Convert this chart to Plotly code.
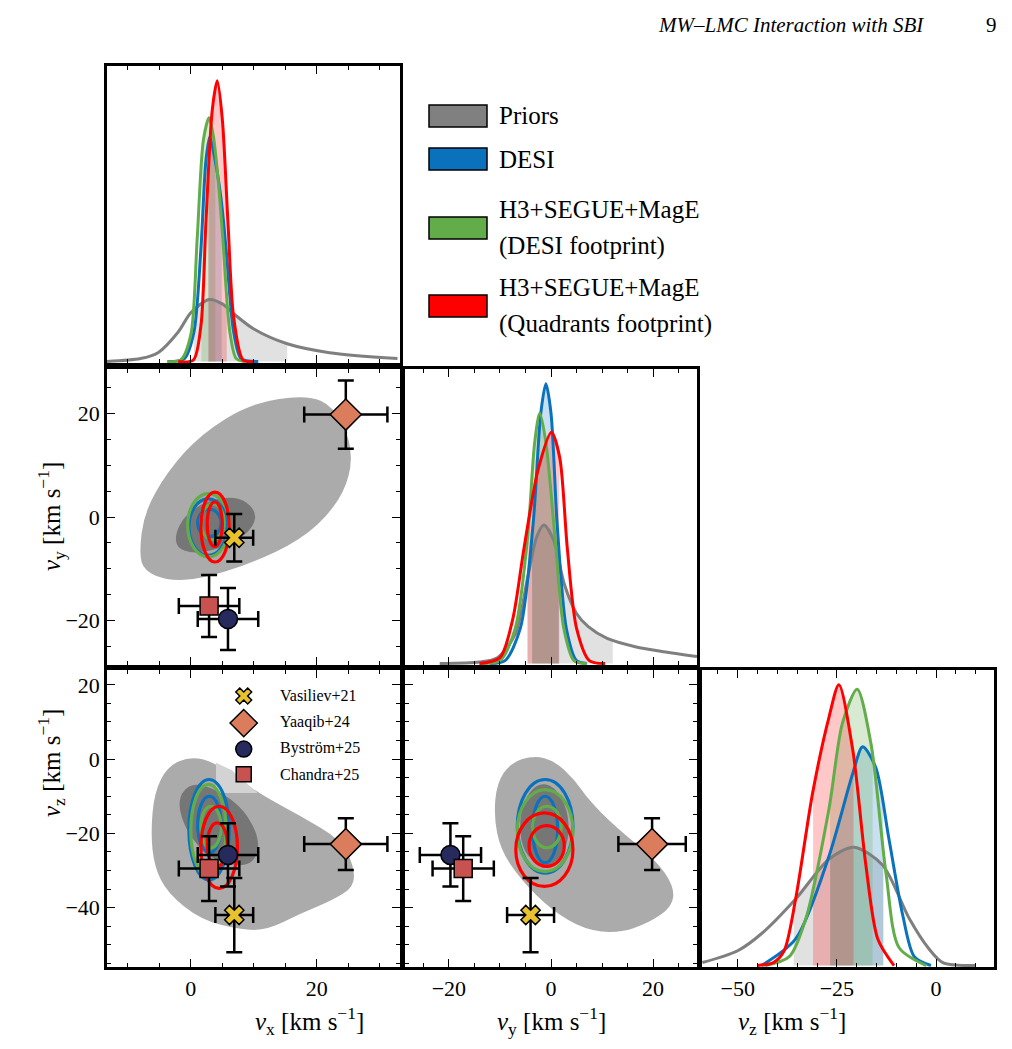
import numpy as np
import plotly.graph_objects as go

# ---- 1D marginals (value, relative height) ----
vx_prior_x = [-13.3, -8, -5.2, -2, 0, 2.9, 5, 6.9, 10, 15.3, 22, 32.8]
vx_prior_h = [0.0, 0.01, 0.03, 0.1, 0.165, 0.21, 0.195, 0.16, 0.11, 0.06, 0.03, 0.01]
vx_desi_x = [-3.7, -1, 0.5, 1.6, 2.4, 3.0, 3.7, 4.8, 5.6, 6.8, 8, 10.7]
vx_desi_h = [0, 0.01, 0.1, 0.38, 0.68, 0.76, 0.7, 0.55, 0.38, 0.1, 0.01, 0]
vx_h3d_x = [-3.7, -1.6, 0, 1.0, 2.0, 2.9, 3.6, 4.4, 5.1, 6.2, 7.2, 8.5]
vx_h3d_h = [0, 0.005, 0.09, 0.41, 0.75, 0.825, 0.76, 0.6, 0.41, 0.1, 0.01, 0]
vx_h3q_x = [-2, 0.4, 1.6, 2.4, 3.4, 4.2, 5.0, 5.9, 6.8, 8.3, 10]
vx_h3q_h = [0, 0.005, 0.12, 0.47, 0.85, 0.95, 0.82, 0.47, 0.15, 0.005, 0]

vy_prior_x = [-21.8, -14, -10.5, -7, -4.6, -2.8, -1.4, 0.5, 2.6, 5, 7.3, 11, 16.5, 22, 28.6]
vy_prior_h = [0, 0.005, 0.02, 0.1, 0.29, 0.43, 0.47, 0.42, 0.27, 0.17, 0.125, 0.085, 0.057, 0.04, 0.024]
vy_desi_x = [-12, -9, -6, -3.5, -2, -1, 0, 1.2, 3, 5, 7]
vy_desi_h = [0, 0.01, 0.12, 0.475, 0.85, 0.95, 0.85, 0.475, 0.12, 0.01, 0]
vy_h3d_x = [-14, -10, -7, -4.6, -3.2, -2.2, -1, 0.8, 2.5, 4.5, 7]
vy_h3d_h = [0, 0.01, 0.12, 0.425, 0.75, 0.85, 0.75, 0.425, 0.12, 0.01, 0]
vy_h3q_x = [-14, -10, -7.5, -5.3, -2.5, 0.1, 1.7, 3.2, 5, 7.5, 10.6]
vy_h3q_h = [0, 0.02, 0.15, 0.39, 0.66, 0.785, 0.7, 0.39, 0.12, 0.01, 0]

vz_prior_x = [-58.9, -50, -43.8, -35.4, -27, -20.7, -13.5, -6.8, -2, 1.7, 10]
vz_prior_h = [0.01, 0.05, 0.11, 0.225, 0.36, 0.40, 0.34, 0.16, 0.06, 0.01, 0]
vz_desi_x = [-44, -35.4, -27, -21, -18.5, -15.2, -11.9, -8.4, -5.5, -1.3]
vz_desi_h = [0, 0.09, 0.37, 0.65, 0.74, 0.67, 0.43, 0.17, 0.03, 0]
vz_h3d_x = [-43, -37, -32.8, -27, -23.6, -19.9, -16.4, -12.6, -9.3, -2.5]
vz_h3d_h = [0, 0.03, 0.16, 0.53, 0.82, 0.935, 0.75, 0.31, 0.06, 0]
vz_h3q_x = [-45, -41, -38.3, -35.4, -31.1, -27, -24.5, -21, -17.7, -14.7, -10.6]
vz_h3q_h = [0, 0.01, 0.05, 0.225, 0.585, 0.84, 0.95, 0.73, 0.34, 0.09, 0]

# shaded intervals (lo, hi) : prior, desi, h3 desi, h3 quadrants
vx_bands = [(0.5, 15.3), (2.8, 4.9), (1.7, 3.9), (2.8, 5.7)]
vy_bands = [(-4.6, 12.1), (-3.7, 1.6), (-3.7, 1.4), (-4.6, 1.6)]
vz_bands = [(-35.9, -13.3), (-26.7, -13.3), (-26.7, -16.0), (-31.0, -20.8)]

# ---- 2D prior regions (outlines) ----
vxvy_p95_x = [-8.2, -7.4, -3.7, 1.6, 9.5, 18.5, 22.7, 25.4, 25.4, 22.7, 17.5, 9.5, 1.6, -3.7, -7.4]
vxvy_p95_y = [-7.1, 0.9, 8.8, 16.0, 22.0, 23.6, 21.3, 14.7, 8.1, 1.5, -4.4, -9.0, -12.0, -12.3, -10.4]
vxvy_p68_x = [-2.6, -1.1, 2.6, 7.4, 10.3, 10.1, 6.9, 1.6, -1.9]
vxvy_p68_y = [-3.8, 0.2, 3.2, 4.0, 1.5, -1.8, -5.1, -7.1, -6.4]

vxvz_p95_x = [-6.35, -5.8, -3.7, 0.0, 4.0, 10.6, 17.5, 23.8, 25.9, 25.9, 22.7, 17.5, 12.2, 7.9, 1.6, -3.7, -5.8]
vxvz_p95_y = [-19.9, -9.1, -1.9, 0.8, -1.0, -9.1, -15.4, -21.7, -28.9, -34.3, -37.9, -41.5, -46.0, -46.0, -43.3, -36.1, -28.9]
vxvz_notch_x = [4.0, 6.5, 10.6, 4.0]
vxvz_notch_y = [-1.0, -3.0, -9.1, -9.1]
vxvz_p68_x = [-1.6, 0.5, 4.2, 8.5, 11.0, 10.1, 6.9, 2.6, -0.5, -1.9]
vxvz_p68_y = [-9.1, -6.4, -8.2, -13.6, -21.7, -28.0, -28.9, -26.2, -19.9, -13.6]

vyvz_p95_x = [-10.6, -7.9, -3.3, 0.7, 4.6, 7.3, 12.5, 20.5, 24.1, 23.8, 19.1, 13.2, 6.6, 0.0, -5.9, -9.9, -11.2]
vyvz_p95_y = [-6.4, -1.0, 1.0, -0.5, -5.5, -10.9, -18.1, -27.1, -34.3, -39.7, -44.2, -46.9, -46.0, -40.6, -32.5, -24.4, -15.4]
vyvz_p68_x = [-5.3, -2.6, 0.7, 3.3, 3.6, 1.3, -2.0, -5.3, -6.3]
vyvz_p68_y = [-10.9, -6.4, -7.3, -13.6, -21.7, -28.0, -28.9, -25.3, -18.1]

# ---- posterior credible contours (x0, x1, y0, y1) : desi, h3 desi, h3 quad; outer, inner ----
vxvy_post = {
    "desi": [(-0.3, 5.8, -7.4, 3.5), (1.1, 4.8, -3.8, 1.5)],
    "h3d": [(-0.5, 6.1, -7.7, 4.5), (1.6, 5.3, -4.4, 2.5)],
    "h3q": [(1.6, 6.1, -8.7, 4.8), (2.6, 5.0, -5.7, 2.9)],
}
vxvz_post = {
    "desi": [(-0.3, 6.1, -32.5, -5.5), (1.1, 4.8, -25.3, -10.0)],
    "h3d": [(0.0, 5.6, -31.6, -6.8), (1.6, 4.8, -23.9, -12.7)],
    "h3q": [(1.6, 7.4, -34.8, -12.7), (2.6, 5.8, -28.9, -17.2)],
}
vyvz_post = {
    "desi": [(-6.6, 4.3, -30.7, -5.5), (-3.6, 1.3, -27.9, -10.0)],
    "h3d": [(-6.6, 4.3, -30.3, -8.2), (-3.6, 2.0, -23.9, -12.7)],
    "h3q": [(-6.9, 4.3, -34.3, -14.5), (-4.3, 2.6, -28.9, -17.9)],
}

# ---- literature measurements ----
lit_names = ["Vasiliev+21", "Yaaqib+24", "Byström+25", "Chandra+25"]
lit_vx = [6.9, 24.6, 5.9, 2.9]
lit_vx_err = [3.0, 6.6, 4.8, 4.8]
lit_vy = [-4.0, 19.8, -19.7, -17.2]
lit_vy_err = [4.6, 6.6, 6.0, 6.0]
lit_vz = [-42.0, -22.9, -25.8, -29.5]
lit_vz_err = [10.0, 7.0, 8.5, 8.7]
lit_symbols = ["x", "diamond", "circle", "square"]
lit_colors = ["#e8c22e", "#db7c5c", "#262a5c", "#c85250"]
lit_sizes = [17, 24, 19, 18]

colors = {"prior": "#7f7f7f", "desi": "#0a72bd", "h3d": "#62ad4a", "h3q": "#ff0000"}
fills = {"prior": "rgba(190,190,190,0.5)", "desi": "rgba(10,114,189,0.22)",
         "h3d": "rgba(98,173,74,0.25)", "h3q": "rgba(255,0,0,0.22)"}

W, H = 1012, 1049
OFF = 7  # page offset of the plot div
cols = [(106, 399), (404, 696), (701, 993)]
rows = [(65, 362), (368, 664), (669, 966)]


def px(x):
    return (x - OFF) / W


def py(y):
    return 1 - (y - OFF) / H


def xdom(c):
    return [px(cols[c][0]), px(cols[c][1])]


def ydom(r):
    return [py(rows[r][1]), py(rows[r][0])]


fig = go.Figure()
SERIF = "Liberation Serif"

panels = {1: (0, 0), 2: (0, 1), 3: (1, 1), 4: (0, 2), 5: (1, 2), 6: (2, 2)}
ranges_x = {1: [-13.3, 33.2], 2: [-13.3, 33.2], 3: [-28.6, 28.6], 4: [-13.3, 33.2], 5: [-28.6, 28.6], 6: [-59, 14.6]}
ranges_y = {1: [-0.005, 1], 2: [-28.6, 28.6], 3: [-0.005, 1], 4: [-56, 24], 5: [-56, 24], 6: [-0.005, 1]}
xdt = {1: 20, 2: 20, 3: 20, 4: 20, 5: 20, 6: 25}

axis_common = dict(showline=True, linecolor="black", linewidth=2.5, mirror="allticks",
                   ticks="inside", ticklen=8, tickwidth=1.3, tickcolor="black",
                   showgrid=False, zeroline=False, automargin=False,
                   tickfont=dict(family=SERIF, size=22, color="black"))
lay = {}
for k, (c, r) in panels.items():
    sx = "" if k == 1 else str(k)
    xa = dict(axis_common, domain=xdom(c), range=ranges_x[k], anchor="y" + sx,
              dtick=xdt[k], tick0=0, minor=dict(ticks="inside", ticklen=4, dtick=5, tickcolor="black"),
              showticklabels=(r == 2))
    if k in (1, 3, 6):
        ya = dict(showline=True, linecolor="black", linewidth=2.5, mirror=True, ticks="",
                  showticklabels=False, showgrid=False, zeroline=False,
                  domain=ydom(r), range=ranges_y[k], anchor="x" + sx)
    else:
        ya = dict(axis_common, domain=ydom(r), range=ranges_y[k], anchor="x" + sx,
                  dtick=20, tick0=0, minor=dict(ticks="inside", ticklen=4, dtick=5, tickcolor="black"),
                  showticklabels=(c == 0))
    lay["xaxis" + sx] = xa
    lay["yaxis" + sx] = ya


def band(xs, hs, lo, hi):
    xs = np.asarray(xs, float)
    hs = np.asarray(hs, float)
    inside = (xs > lo) & (xs < hi)
    bx = np.concatenate([[lo], xs[inside], [hi]])
    bh = np.concatenate([[np.interp(lo, xs, hs)], hs[inside], [np.interp(hi, xs, hs)]])
    return bx, bh


def add_1d(k, curves, bands):
    sx = "" if k == 1 else str(k)
    keys = ["prior", "desi", "h3d", "h3q"]
    for key, (xs, hs), (lo, hi) in zip(keys, curves, bands):
        bx, bh = band(xs, hs, lo, hi)
        fc = "rgba(200,200,200,0.55)" if key == "prior" else fills[key]
        fig.add_trace(go.Scatter(x=bx, y=bh, mode="lines", line=dict(width=0, shape="spline"),
                                 fill="tozeroy", fillcolor=fc, hoverinfo="skip",
                                 xaxis="x" + sx, yaxis="y" + sx, showlegend=False))
    for key, (xs, hs) in zip(keys, curves):
        fig.add_trace(go.Scatter(x=xs, y=hs, mode="lines",
                                 line=dict(color=colors[key], width=3, shape="spline", smoothing=0.8),
                                 xaxis="x" + sx, yaxis="y" + sx, showlegend=False))


add_1d(1, [(vx_prior_x, vx_prior_h), (vx_desi_x, vx_desi_h), (vx_h3d_x, vx_h3d_h), (vx_h3q_x, vx_h3q_h)], vx_bands)
add_1d(3, [(vy_prior_x, vy_prior_h), (vy_desi_x, vy_desi_h), (vy_h3d_x, vy_h3d_h), (vy_h3q_x, vy_h3q_h)], vy_bands)
add_1d(6, [(vz_prior_x, vz_prior_h), (vz_desi_x, vz_desi_h), (vz_h3d_x, vz_h3d_h), (vz_h3q_x, vz_h3q_h)], vz_bands)

shapes = []


def smooth_path(xs, ys):
    pts = list(zip(xs, ys))
    n = len(pts)
    mids = [((pts[i][0] + pts[(i + 1) % n][0]) / 2, (pts[i][1] + pts[(i + 1) % n][1]) / 2) for i in range(n)]
    p = f"M {mids[-1][0]},{mids[-1][1]}"
    for i in range(n):
        p += f" Q {pts[i][0]},{pts[i][1]} {mids[i][0]},{mids[i][1]}"
    return p + " Z"


def region(k, xs, ys, color, smooth=True):
    path = smooth_path(xs, ys) if smooth else "M " + " L ".join(f"{a},{b}" for a, b in zip(xs, ys)) + " Z"
    shapes.append(dict(type="path", path=path, xref="x" + str(k), yref="y" + str(k),
                       fillcolor=color, line=dict(width=0), layer="below"))


def contours(k, post):
    for key in ["desi", "h3d", "h3q"]:
        for (x0, x1, y0, y1) in post[key]:
            shapes.append(dict(type="circle", x0=x0, x1=x1, y0=y0, y1=y1, xref="x" + str(k), yref="y" + str(k),
                               line=dict(color=colors[key], width=3.2), layer="below"))


region(2, vxvy_p95_x, vxvy_p95_y, "#ababab")
region(2, vxvy_p68_x, vxvy_p68_y, "#767676")
contours(2, vxvy_post)
region(4, vxvz_p95_x, vxvz_p95_y, "#ababab")
region(4, vxvz_notch_x, vxvz_notch_y, "#d3d3d3", smooth=False)
region(4, vxvz_p68_x, vxvz_p68_y, "#767676")
contours(4, vxvz_post)
region(5, vyvz_p95_x, vyvz_p95_y, "#ababab")
region(5, vyvz_p68_x, vyvz_p68_y, "#767676")
contours(5, vyvz_post)


def add_points(k, xs, xe, ys, ye):
    for i in range(len(lit_names)):
        fig.add_trace(go.Scatter(
            x=[xs[i]], y=[ys[i]], mode="markers", xaxis="x" + str(k), yaxis="y" + str(k),
            error_x=dict(type="data", array=[xe[i]], color="black", thickness=2.5, width=8),
            error_y=dict(type="data", array=[ye[i]], color="black", thickness=2.5, width=8),
            marker=dict(symbol=lit_symbols[i], size=lit_sizes[i], color=lit_colors[i],
                        line=dict(color="black", width=1.5)), showlegend=False))


add_points(2, lit_vx, lit_vx_err, lit_vy, lit_vy_err)
add_points(4, lit_vx, lit_vx_err, lit_vz, lit_vz_err)
add_points(5, lit_vy, lit_vy_err, lit_vz, lit_vz_err)

# marker legend inside the vx-vz panel
leg_y = [17.0, 9.7, 2.7, -4.1]
for i in range(len(lit_names)):
    fig.add_trace(go.Scatter(x=[8.4], y=[leg_y[i]], mode="markers", xaxis="x4", yaxis="y4",
                             marker=dict(symbol=lit_symbols[i], size=lit_sizes[i] - 3, color=lit_colors[i],
                                         line=dict(color="black", width=1.5)), showlegend=False))

ann = []
for i, name in enumerate(lit_names):
    ann.append(dict(text=name, x=px(277), y=py(695 + i * 26), xref="paper", yref="paper",
                    xanchor="left", yanchor="middle", showarrow=False,
                    font=dict(family=SERIF, size=16, color="black")))

# main legend (top right)
leg_items = [("Priors", "#808080", 115, ["Priors"]),
             ("DESI", colors["desi"], 158, ["DESI"]),
             ("H3d", colors["h3d"], 227, ["H3+SEGUE+MagE", "(DESI footprint)"]),
             ("H3q", colors["h3q"], 305, ["H3+SEGUE+MagE", "(Quadrants footprint)"])]
for _, col, yc, lines in leg_items:
    shapes.append(dict(type="rect", xref="paper", yref="paper", x0=px(428), x1=px(486),
                       y0=py(yc + 11), y1=py(yc - 11), fillcolor=col,
                       line=dict(color="black", width=1.5)))
    offs = [0] if len(lines) == 1 else [-18, 18]
    for t, o in zip(lines, offs):
        ann.append(dict(text=t, x=px(496), y=py(yc + o), xref="paper", yref="paper",
                        xanchor="left", yanchor="middle", showarrow=False,
                        font=dict(family=SERIF, size=25, color="black")))

# axis titles
lab = dict(xref="paper", yref="paper", showarrow=False, font=dict(family=SERIF, size=25, color="black"))
ann.append(dict(lab, text="<i>v</i><sub>x</sub> [km s<sup>−1</sup>]", x=px(252), y=py(1040)))
ann.append(dict(lab, text="<i>v</i><sub>y</sub> [km s<sup>−1</sup>]", x=px(550), y=py(1040)))
ann.append(dict(lab, text="<i>v</i><sub>z</sub> [km s<sup>−1</sup>]", x=px(847), y=py(1040)))
ann.append(dict(lab, text="<i>v</i><sub>y</sub> [km s<sup>−1</sup>]", x=px(30), y=py(516), textangle=-90))
ann.append(dict(lab, text="<i>v</i><sub>z</sub> [km s<sup>−1</sup>]", x=px(30), y=py(818), textangle=-90))
# page header
ann.append(dict(text="<i>MW–LMC Interaction with SBI</i>", x=px(925), y=py(24), xref="paper", yref="paper",
                xanchor="right", yanchor="middle", showarrow=False,
                font=dict(family=SERIF, size=21, color="black")))
ann.append(dict(text="9", x=px(998), y=py(24), xref="paper", yref="paper",
                xanchor="right", yanchor="middle", showarrow=False,
                font=dict(family=SERIF, size=21, color="black")))

fig.update_layout(width=W, height=H, margin=dict(l=0, r=0, t=0, b=0),
                  paper_bgcolor="white", plot_bgcolor="white",
                  shapes=shapes, annotations=ann, showlegend=False, **lay)

fig.write_html("out.html")
